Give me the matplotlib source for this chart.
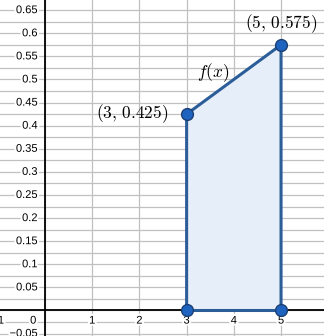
import numpy as np
import matplotlib.pyplot as plt
import matplotlib.patheffects as pe

plt.rcParams['mathtext.fontset'] = 'cm'
plt.rcParams['font.family'] = ['Liberation Sans', 'DejaVu Sans']

# region under f(x) between x=3 and x=5
xs = [3, 3, 5, 5]
ys = [0, 0.425, 0.575, 0]
pts_x = [3, 5, 3, 5]
pts_y = [0.425, 0.575, 0, 0]

x_ticks = [-1, 1, 2, 3, 4, 5]
y_ticks = [-0.05, 0.05, 0.1, 0.15, 0.2, 0.25, 0.3, 0.35, 0.4, 0.45, 0.5, 0.55, 0.6, 0.65]
y_labels = ['\u22120.05', '0.05', '0.1', '0.15', '0.2', '0.25', '0.3', '0.35',
            '0.4', '0.45', '0.5', '0.55', '0.6', '0.65']
y_minor = np.arange(-0.05, 0.70, 0.025)

fig = plt.figure(figsize=(3.24, 3.36), dpi=100)
ax = fig.add_axes([0, 0, 1, 1])
ax.set_xlim(-0.953, 5.91)
ax.set_ylim(-0.0552, 0.672)
ax.axis('off')

grid_col = '#c0c0c0'
for yv in y_minor:
    ax.axhline(yv, color=grid_col, lw=0.9, zorder=0)
for xv in range(-1, 7):
    ax.axvline(xv, color=grid_col, lw=0.9, zorder=0)
ax.axhline(0, color='black', lw=1.3, zorder=1)
ax.axvline(0, color='black', lw=1.3, zorder=1)

halo = [pe.withStroke(linewidth=3, foreground='white')]
for yv, lab in zip(y_ticks, y_labels):
    ax.text(-0.16, yv, lab, ha='right', va='center', fontsize=8, zorder=2,
            path_effects=halo)
for xv in x_ticks:
    ax.text(xv, -0.011, '\u2212' + str(-xv) if xv < 0 else str(xv), ha='center',
            va='top', fontsize=8, zorder=2, path_effects=halo)
ax.text(-0.25, -0.011, '0', ha='center', va='top', fontsize=8, zorder=2,
        path_effects=halo)

line_col = '#2b5d99'
ax.fill(xs, ys, color='#e6eef9', zorder=2)
ax.plot(xs + [xs[0]], ys + [ys[0]], color=line_col, lw=2.2, zorder=3,
        solid_joinstyle='round')
ax.plot(pts_x, pts_y, 'o', ms=8.5, mfc='#1f63c1', mec='#1b3f73', mew=1.0, zorder=4)

ax.text(5, 0.62, r'$(5,\,0.575)$', ha='center', va='center', fontsize=12.5)
ax.text(2.62, 0.427, r'$(3,\,0.425)$', ha='right', va='center', fontsize=12.5)
ax.text(3.56, 0.515, r'$f(x)$', ha='center', va='center', fontsize=12.5)

fig.savefig('out.png', dpi=100)
